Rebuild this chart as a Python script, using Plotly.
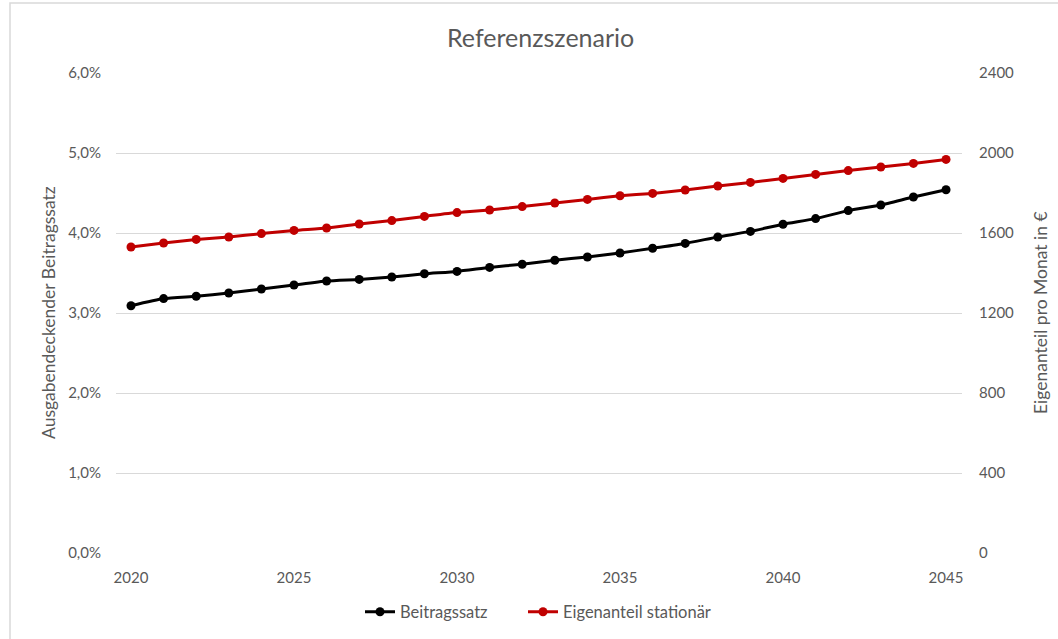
import plotly.graph_objects as go

years = list(range(2020, 2046))
beitragssatz = [3.09, 3.18, 3.21, 3.25, 3.30, 3.35, 3.40, 3.42, 3.45, 3.49, 3.52, 3.57, 3.61,
                3.66, 3.70, 3.75, 3.81, 3.87, 3.95, 4.02, 4.11, 4.18, 4.28, 4.35, 4.45, 4.54]
eigenanteil = [1530, 1550, 1568, 1580, 1597, 1613, 1625, 1645, 1662, 1683, 1702, 1715, 1732,
               1750, 1768, 1786, 1798, 1815, 1835, 1853, 1873, 1893, 1912, 1930, 1948, 1968]

left_ticks = [0, 1, 2, 3, 4, 5, 6]
left_labels = ["0,0%", "1,0%", "2,0%", "3,0%", "4,0%", "5,0%", "6,0%"]
right_ticks = [0, 400, 800, 1200, 1600, 2000, 2400]
x_ticks = [2020, 2025, 2030, 2035, 2040, 2045]

title_text = "Referenzszenario"
left_title = "Ausgabendeckender Beitragssatz"
right_title = "Eigenanteil pro Monat in €"

FONT = "Lato, Open Sans, sans-serif"
GRAY = "#595959"

fig = go.Figure()
fig.add_trace(go.Scatter(
    x=years, y=beitragssatz, name="Beitragssatz", mode="lines+markers",
    line=dict(color="#000000", width=3, shape="spline", smoothing=0.5),
    marker=dict(color="#000000", size=9), yaxis="y", legend="legend"))
fig.add_trace(go.Scatter(
    x=years, y=eigenanteil, name="Eigenanteil stationär", mode="lines+markers",
    line=dict(color="#C00000", width=3, shape="spline", smoothing=0.5),
    marker=dict(color="#C00000", size=9), yaxis="y2", legend="legend2"))

legend_common = dict(orientation="h", xanchor="left", y=-0.123, yanchor="middle",
                     font=dict(size=16.5, color=GRAY), bgcolor="rgba(0,0,0,0)")

fig.update_layout(
    width=1058, height=639,
    margin=dict(l=116, r=96, t=73, b=86, autoexpand=False),
    paper_bgcolor="white", plot_bgcolor="white",
    font=dict(family=FONT, size=15, color=GRAY),
    showlegend=True,
    legend=dict(x=(360 - 116) / 846, **legend_common),
    legend2=dict(x=(523 - 116) / 846, **legend_common),
    xaxis=dict(range=[2019.54, 2045.49], tickvals=x_ticks, showgrid=False, zeroline=False,
               showline=False, ticks="", tickfont=dict(size=15, color=GRAY), ticklabelstandoff=14),
    yaxis=dict(range=[0, 6], tickvals=left_ticks, ticktext=left_labels,
               showgrid=True, gridcolor="#D9D9D9", gridwidth=1.3, zeroline=False, showline=False,
               ticks="", tickfont=dict(size=15, color=GRAY), ticklabelstandoff=14),
    yaxis2=dict(range=[0, 2400], tickvals=right_ticks, overlaying="y", side="right",
                showgrid=False, zeroline=False, showline=False, ticks="",
                tickfont=dict(size=15, color=GRAY), ticklabelstandoff=16),
    annotations=[
        dict(text=title_text, x=0.502, y=(553 - 37) / 480, xref="paper", yref="paper",
             xanchor="center", yanchor="middle",
             showarrow=False, font=dict(size=25, color=GRAY, family=FONT)),
        dict(text=left_title, x=(48 - 116) / 846, y=0.5, xref="paper", yref="paper",
             xanchor="center", yanchor="middle", showarrow=False,
             textangle=-90, font=dict(size=17.5, color=GRAY, family=FONT)),
        dict(text=right_title, x=(1040 - 116) / 846, y=0.5, xref="paper", yref="paper",
             xanchor="center", yanchor="middle", showarrow=False,
             textangle=-90, font=dict(size=17.5, color=GRAY, family=FONT)),
    ],
    shapes=[dict(type="rect", xref="paper", yref="paper",
                 x0=(10 - 116) / 846, x1=(1070 - 116) / 846,
                 y0=(553 - 660) / 480, y1=(553 - 3) / 480,
                 line=dict(color="#D9D9D9", width=1.5), fillcolor="rgba(0,0,0,0)", layer="below")],
)

fig.write_html("out.html", config={"displayModeBar": False},
               post_script="document.body.style.margin='0';document.body.style.overflow='hidden';")
